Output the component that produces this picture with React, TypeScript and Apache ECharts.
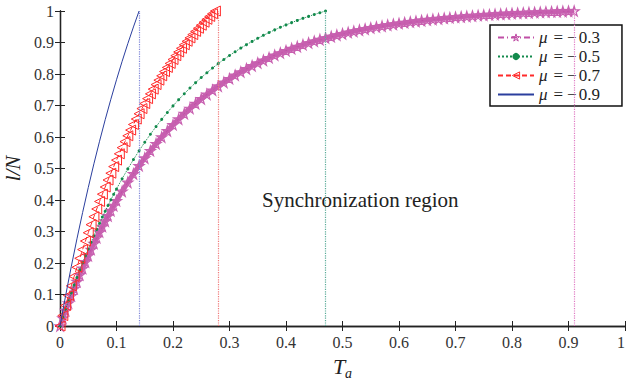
import React, { useEffect, useRef } from "react";
import * as echarts from "echarts";

// Legend names and saturation points (where each curve reaches l/N = 1)
const seriesNames = ["μ=−0.3", "μ=−0.5", "μ=−0.7", "μ=−0.9"];
const saturationT = [0.91, 0.47, 0.275, 0.14];
const xTicks = [0, 0.1, 0.2, 0.3, 0.4, 0.5, 0.6, 0.7, 0.8, 0.9, 1];
const yTicks = [0, 0.1, 0.2, 0.3, 0.4, 0.5, 0.6, 0.7, 0.8, 0.9, 1];

// μ = -0.3
const tMu03 = [
  0, 0.005, 0.01, 0.015, 0.02, 0.025, 0.03, 0.035, 0.04, 0.045, 0.05, 0.055, 0.06, 0.065, 0.07, 0.075, 0.08, 0.085, 0.09, 0.095, 0.1,
  0.11, 0.12, 0.13, 0.14, 0.15, 0.16, 0.17, 0.18, 0.19, 0.2, 0.21, 0.22, 0.23, 0.24, 0.25, 0.26, 0.27, 0.28, 0.29, 0.3,
  0.31, 0.32, 0.33, 0.34, 0.35, 0.36, 0.37, 0.38, 0.39, 0.4, 0.41, 0.42, 0.43, 0.44, 0.45, 0.46, 0.47, 0.48, 0.49, 0.5,
  0.51, 0.52, 0.53, 0.54, 0.55, 0.56, 0.57, 0.58, 0.59, 0.6, 0.61, 0.62, 0.63, 0.64, 0.65, 0.66, 0.67, 0.68, 0.69, 0.7,
  0.71, 0.72, 0.73, 0.74, 0.75, 0.76, 0.77, 0.78, 0.79, 0.8, 0.81, 0.82, 0.83, 0.84, 0.85, 0.86, 0.87, 0.88, 0.89, 0.9, 0.91,
];
const yMu03 = [
  0, 0.025, 0.0493, 0.073, 0.0962, 0.1188, 0.1408, 0.1623, 0.1832, 0.2036, 0.2236, 0.243, 0.262, 0.2804, 0.2985, 0.3161, 0.3332, 0.3499, 0.3663, 0.3822, 0.3977,
  0.4276, 0.456, 0.4831, 0.5088, 0.5333, 0.5566, 0.5787, 0.5998, 0.6198, 0.6389, 0.657, 0.6743, 0.6907, 0.7063, 0.7211, 0.7353, 0.7487, 0.7615, 0.7736, 0.7852,
  0.7962, 0.8066, 0.8166, 0.8261, 0.8351, 0.8436, 0.8518, 0.8595, 0.8669, 0.8739, 0.8806, 0.8869, 0.893, 0.8987, 0.9042, 0.9094, 0.9143, 0.919, 0.9235, 0.9277,
  0.9318, 0.9356, 0.9393, 0.9428, 0.9461, 0.9492, 0.9522, 0.9551, 0.9578, 0.9604, 0.9628, 0.9652, 0.9674, 0.9695, 0.9715, 0.9734, 0.9752, 0.977, 0.9786, 0.9802,
  0.9817, 0.9831, 0.9844, 0.9857, 0.9869, 0.9881, 0.9892, 0.9902, 0.9912, 0.9922, 0.9931, 0.9939, 0.9948, 0.9955, 0.9963, 0.997, 0.9976, 0.9983, 0.9989, 0.9995, 1.0,
];

// μ = -0.5
const tMu05 = [
  0, 0.005, 0.01, 0.015, 0.02, 0.025, 0.03, 0.035, 0.04, 0.045, 0.05, 0.055, 0.06, 0.065, 0.07, 0.075, 0.08, 0.085, 0.09, 0.095, 0.1,
  0.11, 0.12, 0.13, 0.14, 0.15, 0.16, 0.17, 0.18, 0.19, 0.2, 0.21, 0.22, 0.23, 0.24, 0.25, 0.26, 0.27, 0.28, 0.29, 0.3,
  0.31, 0.32, 0.33, 0.34, 0.35, 0.36, 0.37, 0.38, 0.39, 0.4, 0.41, 0.42, 0.43, 0.44, 0.45, 0.46, 0.47,
];
const yMu05 = [
  0, 0.0273, 0.0539, 0.0799, 0.1052, 0.1299, 0.154, 0.1775, 0.2004, 0.2227, 0.2445, 0.2658, 0.2865, 0.3067, 0.3264, 0.3457, 0.3644, 0.3827, 0.4006, 0.418, 0.435,
  0.4677, 0.4988, 0.5283, 0.5565, 0.5833, 0.6087, 0.633, 0.656, 0.6779, 0.6988, 0.7186, 0.7375, 0.7554, 0.7725, 0.7887, 0.8042, 0.8189, 0.8328, 0.8461, 0.8588,
  0.8708, 0.8822, 0.8931, 0.9035, 0.9133, 0.9227, 0.9316, 0.9401, 0.9482, 0.9558, 0.9631, 0.9701, 0.9767, 0.9829, 0.9889, 0.9946, 1.0,
];

// μ = -0.7
const tMu07 = [
  0, 0.005, 0.01, 0.015, 0.02, 0.025, 0.03, 0.035, 0.04, 0.045, 0.05, 0.055, 0.06, 0.065, 0.07, 0.075, 0.08, 0.085, 0.09, 0.095, 0.1,
  0.105, 0.11, 0.115, 0.12, 0.125, 0.13, 0.135, 0.14, 0.145, 0.15, 0.155, 0.16, 0.165, 0.17, 0.175, 0.18, 0.185, 0.19, 0.195, 0.2,
  0.205, 0.21, 0.215, 0.22, 0.225, 0.23, 0.235, 0.24, 0.245, 0.25, 0.255, 0.26, 0.265, 0.27, 0.275,
];
const yMu07 = [
  0, 0.033, 0.0653, 0.0967, 0.1274, 0.1573, 0.1864, 0.2149, 0.2426, 0.2697, 0.2961, 0.3218, 0.3469, 0.3714, 0.3953, 0.4185, 0.4412, 0.4634, 0.485, 0.5061, 0.5266,
  0.5467, 0.5662, 0.5853, 0.6039, 0.622, 0.6397, 0.657, 0.6738, 0.6902, 0.7062, 0.7218, 0.737, 0.7519, 0.7664, 0.7805, 0.7943, 0.8077, 0.8208, 0.8336, 0.846,
  0.8582, 0.87, 0.8816, 0.8929, 0.9039, 0.9146, 0.9251, 0.9353, 0.9452, 0.9549, 0.9644, 0.9736, 0.9827, 0.9914, 1.0,
];

// μ = -0.9
const tMu09 = [0, 0.01, 0.02, 0.03, 0.04, 0.05, 0.06, 0.07, 0.08, 0.09, 0.1, 0.11, 0.12, 0.13, 0.14];
const yMu09 = [0, 0.0969, 0.189, 0.2767, 0.3601, 0.4394, 0.5149, 0.5866, 0.6549, 0.7198, 0.7816, 0.8404, 0.8963, 0.9494, 1.0];

const STAR =
  "path://M10 0 L12.245 6.91 L19.51 6.91 L13.63 11.18 L15.88 18.09 L10 13.82 L4.12 18.09 L6.37 11.18 L0.49 6.91 L7.755 6.91 Z";

const zip = (t: number[], y: number[]) => t.map((v, i) => [v, y[i]]);

const FONT = "'Liberation Serif', 'Times New Roman', serif";
const AXIS_COLOR = "#222";
const C_PURPLE = "#c04fa6";
const C_GREEN = "#128a4c";
const C_RED = "#ff2a2a";
const C_BLUE = "#2b3f9e";
const CLEAR = "rgba(255,255,255,0)";

export default function App() {
  const ref = useRef<HTMLDivElement>(null);

  useEffect(() => {
    if (!ref.current) return;
    const chart = echarts.init(ref.current, undefined, { renderer: "svg" });

    const vline = (x: number, color: string) => ({
      silent: true,
      symbol: "none",
      label: { show: false },
      emphasis: { disabled: true },
      lineStyle: { color, type: "dotted", width: 1.2, opacity: 1 },
      data: [{ xAxis: x }],
    });

    const baseAxis = {
      min: 0,
      max: 1,
      interval: 0.1,
      axisLine: { show: true, lineStyle: { color: AXIS_COLOR, width: 1.3 } },
      axisTick: { show: true, inside: true, length: 5, lineStyle: { color: AXIS_COLOR, width: 1 } },
      splitLine: { show: false },
    };

    const LFS = 17;
    const legendRich = (extra: any) => ({ fontFamily: FONT, fontSize: LFS, color: "#222", ...extra });

    const option: any = {
      animation: false,
      backgroundColor: "#fff",
      textStyle: { fontFamily: FONT },
      grid: { left: 60, right: 1, top: 11, bottom: 57, containLabel: false, outerBoundsMode: "none" },
      xAxis: [
        {
          ...baseAxis,
          type: "value",
          position: "bottom",
          axisLabel: {
            color: "#333",
            fontFamily: FONT,
            fontSize: 16,
            margin: 8,
            alignMaxLabel: "right",
            formatter: (v: number) => String(xTicks.find((t) => Math.abs(t - v) < 1e-9) ?? v),
          },
          name: "{t|T}{s|a}",
          nameLocation: "middle",
          nameGap: 26,
          nameTextStyle: {
            fontFamily: FONT,
            rich: {
              t: { fontFamily: FONT, fontStyle: "italic", fontSize: 22, color: "#222" },
              s: { fontFamily: FONT, fontStyle: "italic", fontSize: 14, color: "#222", padding: [14, 0, 0, 0] },
            },
          },
        },
        {
          ...baseAxis,
          type: "value",
          position: "top",
          axisLabel: { show: false },
        },
      ],
      yAxis: [
        {
          ...baseAxis,
          type: "value",
          position: "left",
          axisLabel: {
            color: "#333",
            fontFamily: FONT,
            fontSize: 16,
            margin: 6,
            formatter: (v: number) => String(yTicks.find((t) => Math.abs(t - v) < 1e-9) ?? v),
          },
          name: "l/N",
          nameLocation: "middle",
          nameGap: 27,
          nameTextStyle: { fontFamily: FONT, fontStyle: "italic", fontSize: 21, color: "#222" },
        },
        {
          ...baseAxis,
          type: "value",
          position: "right",
          axisLabel: { show: false },
        },
      ],
      legend: {
        orient: "vertical",
        left: 490,
        top: 25,
        padding: [4, 22, 3, 7],
        borderColor: "#111",
        borderWidth: 1.5,
        backgroundColor: CLEAR,
        itemWidth: 36,
        itemHeight: 9,
        itemGap: 2,
        data: [
          { name: seriesNames[0], itemStyle: { color: CLEAR, borderColor: C_PURPLE, borderWidth: 1 } },
          { name: seriesNames[1], itemStyle: { color: C_GREEN, borderWidth: 0 } },
          { name: seriesNames[2], itemStyle: { color: CLEAR, borderColor: C_RED, borderWidth: 1 } },
          { name: seriesNames[3], itemStyle: { color: CLEAR, borderColor: CLEAR, borderWidth: 0 } },
        ],
        formatter: (name: string) => `{m|μ}{q|=}{n|−}{r|${name.slice(3)}}`,
        textStyle: {
          fontFamily: FONT,
          fontSize: LFS,
          color: "#222",
          rich: {
            m: legendRich({ fontStyle: "italic", padding: [0, 3, 0, 0] }),
            q: legendRich({ padding: [0, 4, 0, 3] }),
            n: legendRich({ padding: [0, 2, 0, 0] }),
            r: legendRich({}),
          },
        },
      },
      graphic: [
        {
          type: "text",
          left: 262,
          top: 189,
          style: { text: "Synchronization region", font: `21px 'Liberation Serif', serif`, fill: "#222" },
        },
      ],
      series: [
        {
          // band underlay for the dense star markers of μ = -0.3
          type: "line",
          data: zip(tMu03, yMu03),
          symbol: "none",
          silent: true,
          lineStyle: { color: C_PURPLE, width: 5, opacity: 0.9 },
          z: 1,
        },
        {
          name: seriesNames[0],
          type: "line",
          data: zip(tMu03, yMu03),
          symbol: STAR,
          symbolSize: 10,
          showAllSymbol: true,
          color: C_PURPLE,
          lineStyle: { color: C_PURPLE, width: 1, type: [6, 3, 1, 3] },
          itemStyle: { color: CLEAR, borderColor: "#c860b0", borderWidth: 1.2 },
          markLine: vline(saturationT[0], "#e07cc4"),
          z: 2,
        },
        {
          name: seriesNames[1],
          type: "line",
          data: zip(tMu05, yMu05),
          symbol: "circle",
          symbolSize: 3,
          showAllSymbol: true,
          color: C_GREEN,
          lineStyle: { color: C_GREEN, width: 1, type: "dotted" },
          itemStyle: { color: C_GREEN, borderWidth: 0 },
          markLine: vline(saturationT[1], "#5aab98"),
          z: 3,
        },
        {
          name: seriesNames[2],
          type: "line",
          data: zip(tMu07, yMu07),
          symbol: "triangle",
          symbolRotate: 90,
          symbolSize: 10,
          showAllSymbol: true,
          color: C_RED,
          lineStyle: { color: C_RED, width: 1, type: [5, 3] },
          itemStyle: { color: CLEAR, borderColor: C_RED, borderWidth: 1 },
          markLine: vline(saturationT[2], "#f07a7a"),
          z: 4,
        },
        {
          name: seriesNames[3],
          type: "line",
          data: zip(tMu09, yMu09),
          symbol: "none",
          color: C_BLUE,
          lineStyle: { color: C_BLUE, width: 1 },
          markLine: vline(saturationT[3], "#7f86d8"),
          z: 5,
        },
      ],
    };

    chart.setOption(option);
    return () => chart.dispose();
  }, []);

  return <div ref={ref} style={{ width: 626, height: 383, position: "fixed", left: 0, top: 0 }} />;
}
